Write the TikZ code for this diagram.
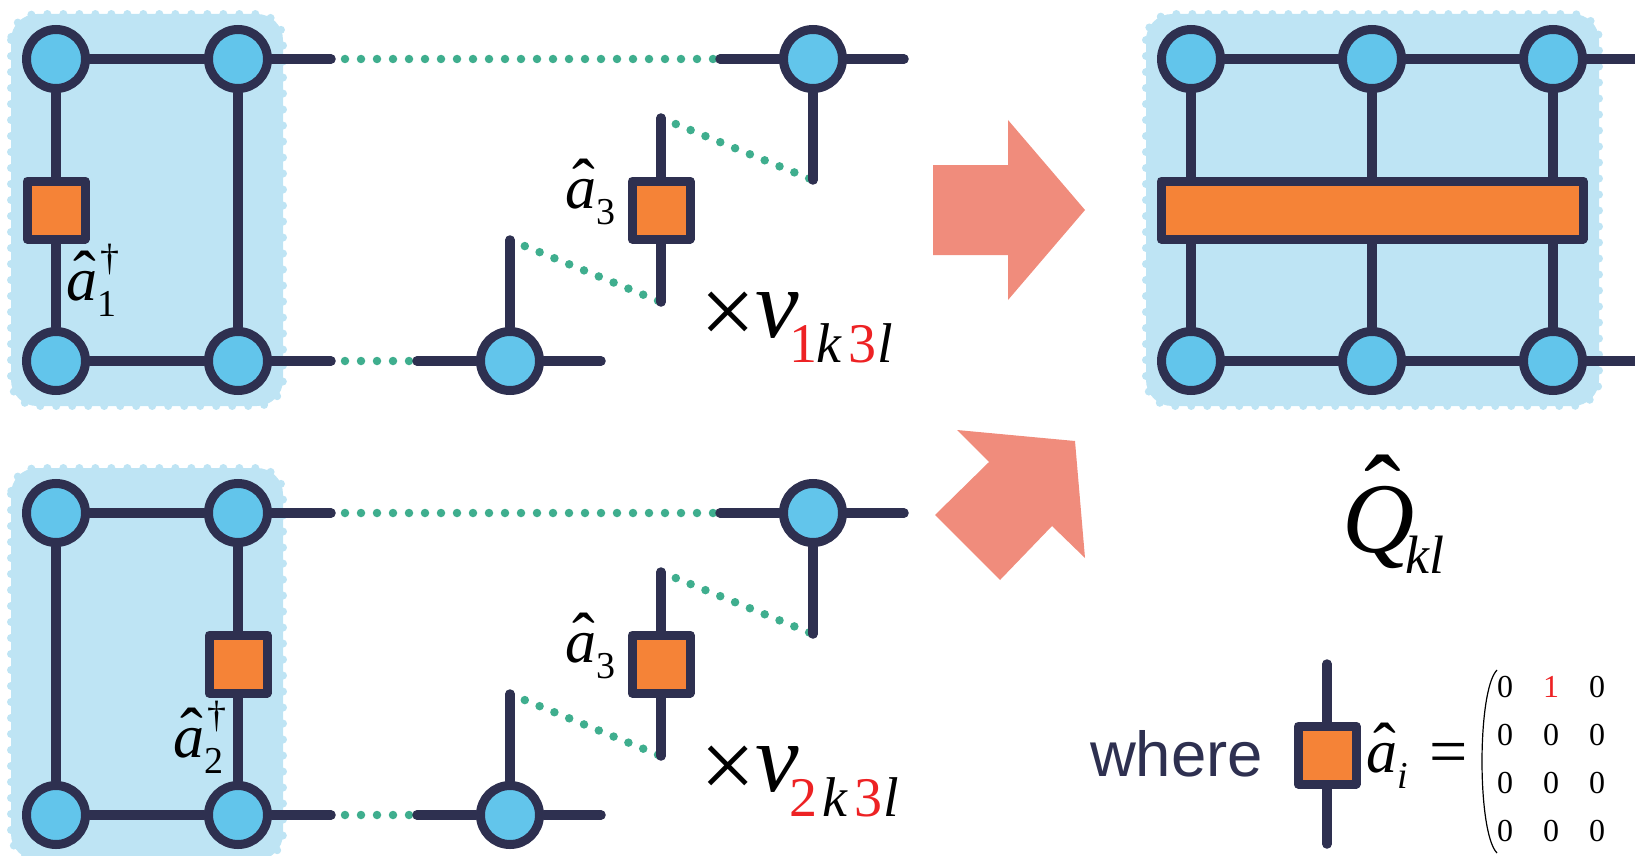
\documentclass[tikz,border=0pt]{standalone}
\usepackage{fontspec}
\setmainfont{Liberation Serif}
\newfontfamily\sansf{Liberation Sans}
\definecolor{navy}{HTML}{2E3050}
\definecolor{panelc}{HTML}{BEE4F4}
\definecolor{circc}{HTML}{62C5EB}
\definecolor{orangec}{HTML}{F58337}
\definecolor{dotc}{HTML}{3FAE8E}
\definecolor{arrowc}{HTML}{F08C7C}
\definecolor{redc}{HTML}{ED2224}
\newcommand{\fs}[1]{\fontsize{#1}{#1}\selectfont}
\newcommand{\hatted}[2][.02em]{\ooalign{\itshape #2\cr\hidewidth\raisebox{#1}{\hspace{.1em}\scalebox{1.1}{\char"02C6}}\hidewidth\cr}}
\newcommand{\aop}[1]{\fs{62}\hatted{a}\raisebox{-16pt}{\fs{38}#1}}
\newcommand{\aopd}[1]{\fs{62}\hatted{a}\rlap{\raisebox{-16pt}{\fs{38}#1}}\raisebox{30pt}{\hspace{3pt}\fs{38}\textdagger}}
\newcommand{\vsub}[2]{\fs{98}\raisebox{-7pt}{×}\textit{v}\hspace{-9pt}\raisebox{-25pt}{\fs{56}\textcolor{redc}{#1}\hspace{#2}\textit{k}\hspace{6pt}\textcolor{redc}{3}\hspace{1pt}\textit{l}}}
\tikzset{
  x=1pt,y=-1pt,
  panel/.style={fill=panelc,draw=none,rounded corners=26pt},
  panelrim/.style={draw=panelc,line width=8pt,line cap=round,dash pattern=on 0pt off 16pt,rounded corners=26pt},
  site/.style={circle,draw=navy,fill=circc,line width=9pt,minimum size=59pt,inner sep=0pt},
  opbox/.style={rectangle,draw=navy,fill=orangec,line width=9pt,line join=round,minimum size=58pt,inner sep=0pt},
  link/.style={draw=navy,line width=9.5pt,line cap=round},
  dots/.style={draw=dotc,line width=8.5pt,line cap=round,dash pattern=on 0pt off 16pt},
  dotsoff/.style={dots,dash phase=2pt},
  label/.style={anchor=base west,inner sep=0pt,outer sep=0pt},
  bigarrow/.style={fill=arrowc,draw=none}
}
\begin{document}
\begin{tikzpicture}
\useasboundingbox (0,0) rectangle (1635,856);
% panels
\path[panel] (11,14) rectangle (283,406);
\draw[panelrim] (11,14) rectangle (283,406);
\path[panel] (11,468) rectangle (283,860);
\draw[panelrim] (11,468) rectangle (283,860);
\path[panel] (1146,14) rectangle (1599,406);
\draw[panelrim] (1146,14) rectangle (1599,406);
% arrows
\fill[bigarrow] (933,165) -- (1008,165) -- (1008,120) -- (1085,210) -- (1008,300) -- (1008,255) -- (933,255) -- cycle;
\fill[bigarrow] (957,430) -- (1075,441) -- (1085,558) -- (1052,526) -- (1000,580) -- (935,515) -- (989,462) -- cycle;
% free ends
\coordinate (e1) at (331,59);
\coordinate (e2) at (331,361);
\coordinate (e3) at (331,513);
\coordinate (e4) at (331,815);
\coordinate (u1) at (720,59);
\coordinate (u2) at (904,59);
\coordinate (u3) at (813,180);
\coordinate (u4) at (661,118);
\coordinate (u5) at (661,302);
\coordinate (u6) at (510,240);
\coordinate (u7) at (417,361);
\coordinate (u8) at (601,361);
\coordinate (w1) at (720,513);
\coordinate (w2) at (904,513);
\coordinate (w3) at (813,634);
\coordinate (w4) at (661,572);
\coordinate (w5) at (661,756);
\coordinate (w6) at (510,694);
\coordinate (w7) at (417,815);
\coordinate (w8) at (601,815);
\coordinate (r1) at (1640,59);
\coordinate (r2) at (1640,361);
\coordinate (k1) at (1327,664);
\coordinate (k2) at (1327,844);
% dotted links
\draw[dotsoff] (e1) -- (u1);
\draw[dotsoff] (e2) -- (u7);
\draw[dots] (u4) -- (u3);
\draw[dots] (u6) -- (u5);
\draw[dotsoff] (e3) -- (w1);
\draw[dotsoff] (e4) -- (w7);
\draw[dots] (w4) -- (w3);
\draw[dots] (w6) -- (w5);
% nodes, top left
\node[site] (a1) at (56,59) {};
\node[site] (a2) at (238,59) {};
\node[site] (a3) at (56,361) {};
\node[site] (a4) at (238,361) {};
\node[opbox] (ax) at (56,210) {};
\node[site] (a5) at (813,59) {};
\node[opbox] (ay) at (661,210) {};
\node[site] (a6) at (510,361) {};
% nodes, bottom left
\node[site] (b1) at (56,513) {};
\node[site] (b2) at (238,513) {};
\node[site] (b3) at (56,815) {};
\node[site] (b4) at (238,815) {};
\node[opbox] (bx) at (238,664) {};
\node[site] (b5) at (813,513) {};
\node[opbox] (by) at (661,664) {};
\node[site] (b6) at (510,815) {};
% nodes, right
\node[site] (t1) at (1191,59) {};
\node[site] (t2) at (1372,59) {};
\node[site] (t3) at (1553,59) {};
\node[site] (d1) at (1191,361) {};
\node[site] (d2) at (1372,361) {};
\node[site] (d3) at (1553,361) {};
\node[opbox,minimum width=422pt] (bar) at (1372,210) {};
\node[opbox] (key) at (1327,755) {};
% links
\draw[link] (a1) -- (a2) (a3) -- (a4) (a1) -- (ax) -- (a3) (a2) -- (a4) (a2) -- (e1) (a4) -- (e2);
\draw[link] (u1) -- (a5) -- (u2) (a5) -- (u3) (u4) -- (ay) -- (u5) (u6) -- (a6) (u7) -- (a6) -- (u8);
\draw[link] (b1) -- (b2) (b3) -- (b4) (b1) -- (b3) (b2) -- (bx) -- (b4) (b2) -- (e3) (b4) -- (e4);
\draw[link] (w1) -- (b5) -- (w2) (b5) -- (w3) (w4) -- (by) -- (w5) (w6) -- (b6) (w7) -- (b6) -- (w8);
\draw[link] (t1) -- (t2) -- (t3) -- (r1) (d1) -- (d2) -- (d3) -- (r2);
\draw[link] (t1) -- (t1 |- bar.north) (t2) -- (t2 |- bar.north) (t3) -- (t3 |- bar.north);
\draw[link] (d1) -- (d1 |- bar.south) (d2) -- (d2 |- bar.south) (d3) -- (d3 |- bar.south);
\draw[link] (k1) -- (key) -- (k2);
% labels
\node[label] (l1) at (66,300) {\aopd{1}};
\node[label] (l2) at (173,757) {\aopd{2}};
\node[label] (l3) at (565,208) {\aop{3}};
\node[label] (l4) at (565,662) {\aop{3}};
\node[label] (l5) at (700,337) {\vsub{1}{-1pt}};
\node[label] (l6) at (700,791) {\vsub{2}{5pt}};
\node[label] (l7) at (1366,772) {\fs{62}\hatted{a}\raisebox{-16pt}{\fs{38}\textit{i}}};
\node[label] (l8) at (1429,774) {\fs{68}=};
\node[label] (l9) at (1342,552) {\fs{100}\hatted[.21em]{Q}\hspace{-9pt}\raisebox{-21pt}{\fs{54}\textit{kl}}};
\node[label,text=navy] (l10) at (1090,776) {\sansf\fs{63.5}where};
% matrix
\draw[draw=black,line width=1.2pt] (1497,670) .. controls (1477,690) and (1477,833) .. (1497,853);
\node[label,anchor=base] (m1) at (1505,697) {\fs{32}0};
\node[label,anchor=base,text=redc] (m2) at (1551,697) {\fs{32}1};
\node[label,anchor=base] (m3) at (1597,697) {\fs{32}0};
\node[label,anchor=base] (m4) at (1505,745) {\fs{32}0};
\node[label,anchor=base] (m5) at (1551,745) {\fs{32}0};
\node[label,anchor=base] (m6) at (1597,745) {\fs{32}0};
\node[label,anchor=base] (m7) at (1505,793) {\fs{32}0};
\node[label,anchor=base] (m8) at (1551,793) {\fs{32}0};
\node[label,anchor=base] (m9) at (1597,793) {\fs{32}0};
\node[label,anchor=base] (m10) at (1505,841) {\fs{32}0};
\node[label,anchor=base] (m11) at (1551,841) {\fs{32}0};
\node[label,anchor=base] (m12) at (1597,841) {\fs{32}0};
\end{tikzpicture}
\end{document}
